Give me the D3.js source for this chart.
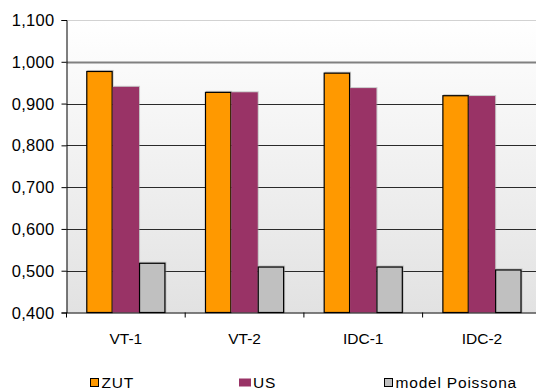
<!DOCTYPE html>
<html>
<head>
<meta charset="utf-8">
<script src="https://cdn.jsdelivr.net/npm/d3@7/dist/d3.min.js"></script>
<style>
  html, body { margin: 0; padding: 0; background: #fff; }
  svg { display: block; font-family: "Liberation Sans", Arial, sans-serif; }
</style>
</head>
<body>
<svg id="chart" width="536" height="389"></svg>
<script>
// Data
const categories = ["VT-1", "VT-2", "IDC-1", "IDC-2"];
const seriesNames = ["ZUT", "US", "model Poissona"];
const zut = [0.978, 0.928, 0.974, 0.920];
const us = [0.940, 0.927, 0.937, 0.918];
const poisson = [0.519, 0.510, 0.510, 0.503];
const yTicks = [0.4, 0.5, 0.6, 0.7, 0.8, 0.9, 1.0, 1.1];

const seriesValues = [zut, us, poisson];
const colors = ["#ff9900", "#993366", "#c0c0c0"];
const borders = ["#000", null, "#000"];

const svg = d3.select("#chart");
const plotLeft = 66.5, plotTop = 20, plotBottom = 312.5, catStep = 118.7;
const plotRight = plotLeft + catStep * categories.length;
const fontFamily = "'Liberation Sans', Arial, sans-serif";

const fmt = v => d3.format(".3f")(v).replace(".", ",");

const y = d3.scaleLinear().domain([0.4, 1.1]).range([plotBottom, plotTop]);
const x0 = d3.scaleBand().domain(categories).range([plotLeft, plotRight]).padding(0);
const x1 = d3.scaleBand().domain(d3.range(seriesNames.length))
  .range([0, x0.bandwidth()]).paddingInner(0).paddingOuter(0.75);

// Plot background gradient
const defs = svg.append("defs");
const grad = defs.append("linearGradient").attr("id", "bg")
  .attr("x1", 0).attr("y1", 0).attr("x2", 0).attr("y2", 1);
grad.append("stop").attr("offset", "0%").attr("stop-color", "#ffffff");
grad.append("stop").attr("offset", "100%").attr("stop-color", "#e2e2e2");

svg.append("rect")
  .attr("x", plotLeft).attr("y", plotTop)
  .attr("width", plotRight - plotLeft).attr("height", plotBottom - plotTop)
  .attr("fill", "url(#bg)");

// Gridlines
svg.append("g").selectAll("line")
  .data(yTicks.filter(t => t > 0.4))
  .join("line")
  .attr("x1", plotLeft).attr("x2", plotRight)
  .attr("y1", d => Math.round(y(d)) + 0.5).attr("y2", d => Math.round(y(d)) + 0.5)
  .attr("stroke", d => Math.abs(d - 1.1) < 1e-9 ? "#d2d2d2" : Math.abs(d - 1.0) < 1e-9 ? "#808080" : "#2a2a2a")
  .attr("stroke-width", d => Math.abs(d - 1.0) < 1e-9 ? 2 : 1);

// Bars
const groups = svg.append("g").selectAll("g")
  .data(categories)
  .join("g")
  .attr("transform", d => `translate(${x0(d)},0)`);

groups.each(function(cat, ci) {
  const g = d3.select(this);
  seriesValues.forEach((vals, si) => {
    const v = vals[ci];
    const bx = x1(si), bw = x1.bandwidth();
    // soft edge shadow
    g.append("rect")
      .attr("x", bx + 1).attr("y", y(v) - 1)
      .attr("width", bw).attr("height", plotBottom - y(v) + 1)
      .attr("fill", "#9a9a9a").attr("opacity", 0.5);
    g.append("rect")
      .attr("x", bx + (borders[si] ? 0.5 : 0))
      .attr("y", y(v) + (borders[si] ? 0.5 : 0))
      .attr("width", bw - (borders[si] ? 1 : 0))
      .attr("height", plotBottom - y(v) - (borders[si] ? 0.5 : 0))
      .attr("fill", colors[si])
      .attr("stroke", borders[si] || "none")
      .attr("stroke-width", borders[si] ? 1.2 : 0);
  });
});

// Y axis
const yAxis = d3.axisLeft(y).tickValues(yTicks).tickSize(5).tickPadding(7).tickFormat(fmt);
const gy = svg.append("g").attr("transform", `translate(${plotLeft},0)`).call(yAxis);
gy.attr("font-family", fontFamily);
gy.select(".domain").attr("stroke", "#000");
gy.selectAll(".tick line").attr("stroke", "#000");
gy.selectAll(".tick text").attr("font-size", 16.5).attr("fill", "#000")
  .attr("letter-spacing", 0.3).attr("dy", "0.34em");

// X axis
const xAxis = d3.axisBottom(x0).tickSize(0).tickPadding(20);
const gx = svg.append("g").attr("transform", `translate(0,${plotBottom})`).call(xAxis);
gx.attr("font-family", fontFamily);
gx.select(".domain").attr("stroke", "#000");
gx.selectAll(".tick text").attr("font-size", 15.5).attr("fill", "#000");
// Category boundary ticks
gx.append("g").selectAll("line")
  .data(categories)
  .join("line")
  .attr("x1", d => x0(d)).attr("x2", d => x0(d))
  .attr("y1", 0).attr("y2", 5)
  .attr("stroke", "#000");

// Legend
const legendX = [90, 239, 384];
const legend = svg.append("g").attr("font-family", fontFamily).selectAll("g")
  .data(seriesNames)
  .join("g")
  .attr("transform", (d, i) => `translate(${legendX[i]},378)`);
legend.append("rect")
  .attr("x", (d, i) => borders[i] ? 0.5 : 0).attr("y", 0.5)
  .attr("width", (d, i) => borders[i] ? 8 : 12).attr("height", 8)
  .attr("fill", (d, i) => colors[i])
  .attr("stroke", (d, i) => borders[i] || "none");
legend.append("text")
  .attr("x", (d, i) => borders[i] ? 11.5 : 14)
  .attr("y", 9.5)
  .attr("font-size", 15.5)
  .attr("letter-spacing", 0.8)
  .attr("fill", "#000")
  .text(d => d);
</script>
</body>
</html>
